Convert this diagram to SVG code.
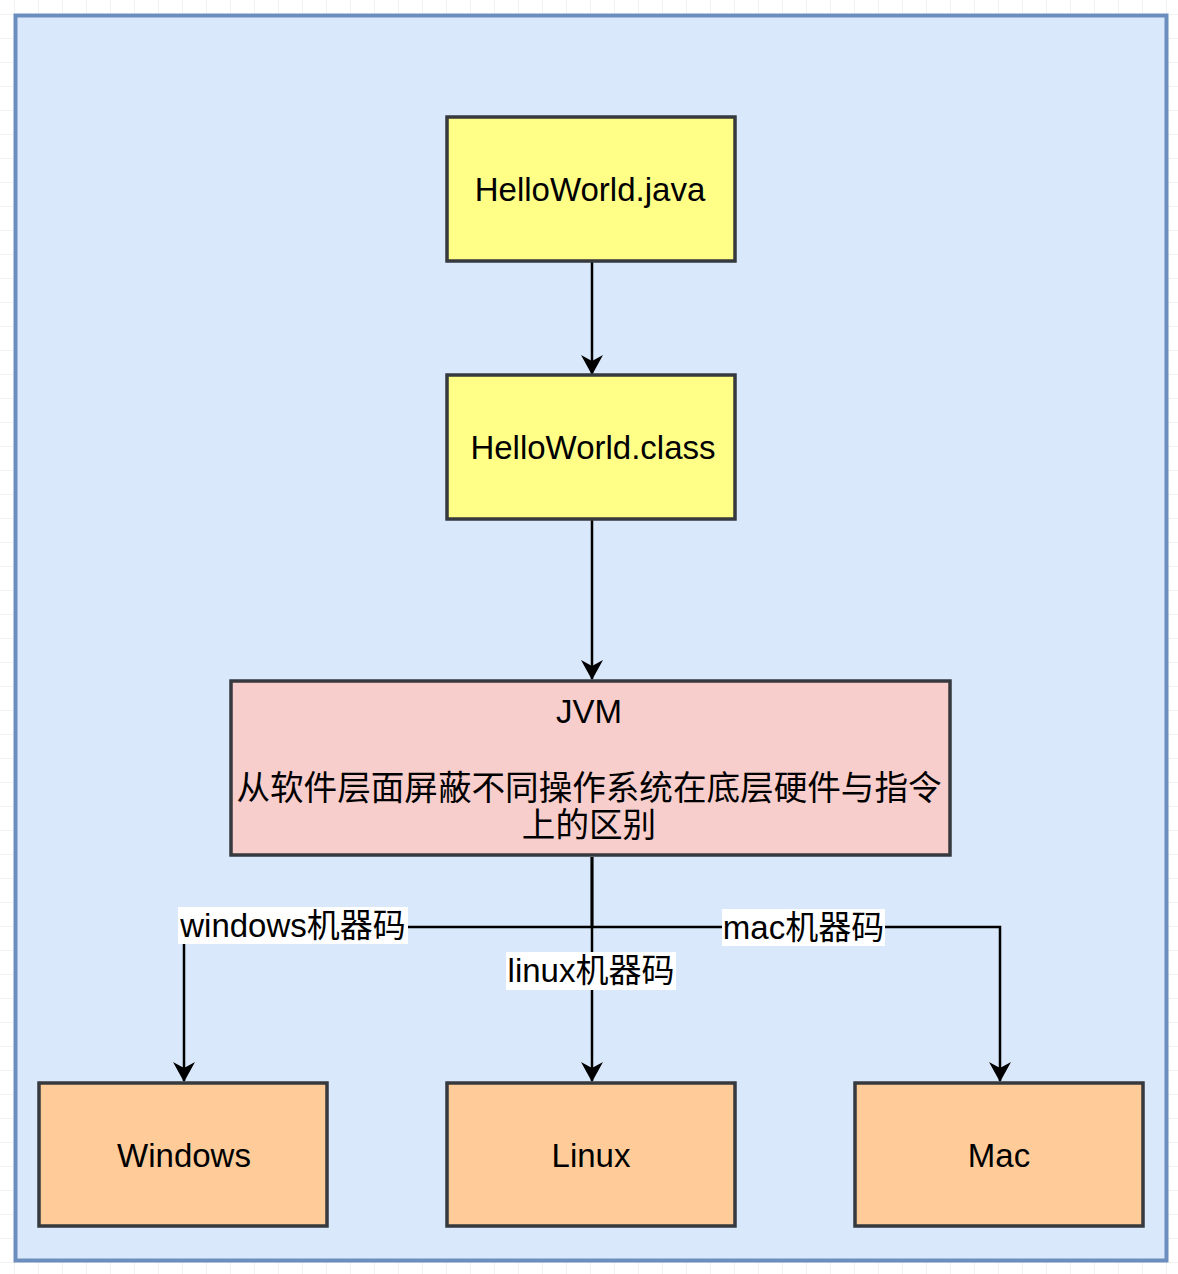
<svg xmlns="http://www.w3.org/2000/svg" width="1178" height="1274" viewBox="0 0 1178 1274">
<style>
.node{stroke:#36393d;stroke-width:3.5}
.yellow{fill:#ffff88}
.red{fill:#f8cecc}
.orange{fill:#ffcc99}
.t{font-family:"Liberation Sans","Noto Sans CJK SC",sans-serif;font-size:33px;fill:#000;text-anchor:middle;dominant-baseline:central}
.cn{font-size:33.6px}
.edge{fill:none;stroke:#000;stroke-width:2.5}
.lblbg{fill:#ffffff}
</style>
<defs>
<pattern id="grid" x="14" y="14" width="24" height="24" patternUnits="userSpaceOnUse">
<path d="M0 0H24M0 0V24" fill="none" stroke="#e4e4e4" stroke-width="1"/>
</pattern>
<marker id="arr" viewBox="0 0 20 22" refX="19" refY="11" markerWidth="20" markerHeight="22" markerUnits="userSpaceOnUse" orient="auto">
<path d="M0 0L20 11L0 22L6 11Z" fill="#000"/>
</marker>
</defs>
<rect width="1178" height="1274" fill="#ffffff"/>
<rect width="1178" height="1274" fill="url(#grid)"/>
<g id="frame">
<rect x="15.5" y="15.5" width="1151" height="1245" fill="#dae8fc" stroke="#6c8ebf" stroke-width="4"/>
</g>
<g id="connectors">
<path class="edge" d="M592 262V374" marker-end="url(#arr)"/>
<path class="edge" d="M592 520V679" marker-end="url(#arr)"/>
<path class="edge" d="M592 857V927H184V1081" marker-end="url(#arr)"/>
<path class="edge" d="M592 857V1081" marker-end="url(#arr)"/>
<path class="edge" d="M592 857V927H1000V1081" marker-end="url(#arr)"/>
<g id="label-windows">
<rect class="lblbg" x="178" y="907" width="230" height="37"/>
<text class="t" x="293" y="925">windows机器码</text>
</g>
<g id="label-mac">
<rect class="lblbg" x="722" y="909" width="163" height="37"/>
<text class="t" x="803.5" y="927">mac机器码</text>
</g>
<g id="label-linux">
<rect class="lblbg" x="506" y="952" width="170" height="38"/>
<text class="t" x="591" y="970">linux机器码</text>
</g>
</g>
<g id="node-java">
<rect class="node yellow" x="447" y="117" width="288" height="144"/>
<text class="t" x="590" y="189">HelloWorld.java</text>
</g>
<g id="node-class">
<rect class="node yellow" x="447" y="375" width="288" height="144"/>
<text class="t" x="593" y="447">HelloWorld.class</text>
</g>
<g id="node-jvm">
<rect class="node red" x="231" y="681" width="719" height="174"/>
<text class="t" x="589" y="711">JVM</text>
<text class="t cn" x="589" y="788">从软件层面屏蔽不同操作系统在底层硬件与指令</text>
<text class="t cn" x="589" y="825">上的区别</text>
</g>
<g id="node-windows">
<rect class="node orange" x="39" y="1083" width="288" height="143"/>
<text class="t" x="184" y="1155">Windows</text>
</g>
<g id="node-linux">
<rect class="node orange" x="447" y="1083" width="288" height="143"/>
<text class="t" x="591" y="1155">Linux</text>
</g>
<g id="node-mac">
<rect class="node orange" x="855" y="1083" width="288" height="143"/>
<text class="t" x="999" y="1155">Mac</text>
</g>
</svg>
